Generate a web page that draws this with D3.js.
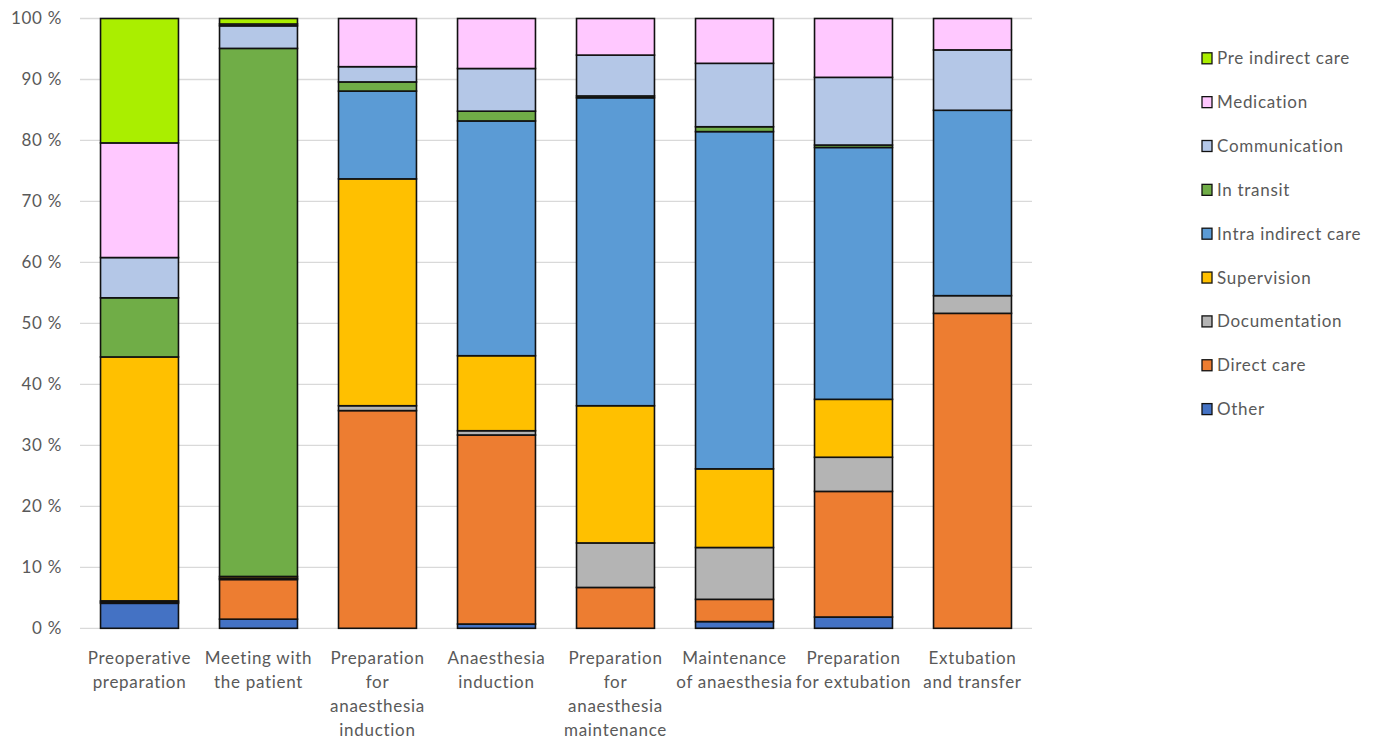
<!DOCTYPE html>
<html>
<head>
<meta charset="utf-8">
<script src="https://cdn.jsdelivr.net/npm/d3@7"></script>
<style>
  html, body { margin: 0; padding: 0; background: #fff; }
  svg { display: block; font-family: Lato, "Liberation Sans", sans-serif; }
</style>
</head>
<body>
<svg id="chart" width="1379" height="739"></svg>
<script>
// Phases of the anaesthesia workflow
const categories = [
  "Preoperative preparation",
  "Meeting with the patient",
  "Preparation for anaesthesia induction",
  "Anaesthesia induction",
  "Preparation for anaesthesia maintenance",
  "Maintenance of anaesthesia",
  "Preparation for extubation",
  "Extubation and transfer"
];
// Axis label lines for each phase
const categoryLines = [
  ["Preoperative", "preparation"],
  ["Meeting with", "the patient"],
  ["Preparation", "for", "anaesthesia", "induction"],
  ["Anaesthesia", "induction"],
  ["Preparation", "for", "anaesthesia", "maintenance"],
  ["Maintenance", "of anaesthesia"],
  ["Preparation", "for extubation"],
  ["Extubation", "and transfer"]
];

// Activity types, stacked bottom to top
const seriesNames = [
  "Other", "Direct care", "Documentation", "Supervision",
  "Intra indirect care", "In transit", "Communication", "Medication",
  "Pre indirect care"
];

// Share of time (%) per activity, one value per phase
const other            = [4.1, 1.5, 0,    0.7,  0,    1.1,  1.85, 0];
const directCare       = [0.2, 6.5, 35.7, 31.0, 6.7,  3.65, 20.6, 51.65];
const documentation    = [0.2, 0.2, 0.8,  0.7,  7.3,  8.5,  5.6,  2.9];
const supervision      = [40.0, 0.3, 37.2, 12.3, 22.5, 12.9, 9.5,  0];
const intraIndirect    = [0,   0,   14.4, 38.5, 50.5, 55.3, 41.3, 30.4];
const inTransit        = [9.7, 86.6, 1.5, 1.6,  0.3,  0.8,  0.4,  0];
const communication    = [6.6, 3.7, 2.5,  7.0,  6.7,  10.4, 11.1, 9.9];
const medication       = [18.8, 0.3, 7.9, 8.2,  6.0,  7.35, 9.65, 5.15];
const preIndirect      = [20.4, 0.9, 0,   0,    0,    0,    0,    0];

const yTicks = [0, 10, 20, 30, 40, 50, 60, 70, 80, 90, 100];

const seriesValues = [other, directCare, documentation, supervision,
  intraIndirect, inTransit, communication, medication, preIndirect];

const colors = ["#4472C4", "#ED7D31", "#B4B4B4", "#FFC000", "#5B9BD5",
  "#70AD47", "#B4C7E7", "#FFC8FF", "#AAEE00"];

// Build row objects for d3.stack
const rows = categories.map((c, i) => {
  const r = { category: c };
  seriesNames.forEach((s, k) => { r[s] = seriesValues[k][i]; });
  return r;
});

const svg = d3.select("#chart");
const margin = { left: 80, right: 1379 - 1032, top: 18.5, bottom: 739 - 628.3 };
const W = 1379, H = 739;

const x = d3.scaleBand()
  .domain(categories)
  .range([margin.left, W - margin.right])
  .paddingInner(0.345)
  .paddingOuter(0.1725);

const y = d3.scaleLinear()
  .domain([0, 100])
  .range([H - margin.bottom, margin.top]);

const textColor = "#595959";
const spacing = "0.7px";

// Gridlines
svg.append("g")
  .selectAll("line")
  .data(yTicks)
  .join("line")
  .attr("x1", margin.left)
  .attr("x2", W - margin.right)
  .attr("y1", d => y(d))
  .attr("y2", d => y(d))
  .attr("stroke", "#D9D9D9")
  .attr("stroke-width", 1.3);

// Y axis labels
const yAxis = d3.axisLeft(y)
  .tickValues(yTicks)
  .tickFormat(d => d + " %")
  .tickSize(0)
  .tickPadding(18);
const yG = svg.append("g")
  .attr("transform", `translate(${margin.left},0)`)
  .call(yAxis);
yG.select(".domain").remove();
yG.selectAll("text")
  .attr("fill", textColor)
  .style("font-size", "17px")
  .style("letter-spacing", spacing)
  .style("font-family", "Lato, sans-serif");

// Stacked bars
const stack = d3.stack().keys(seriesNames);
const stacked = stack(rows);

svg.append("g")
  .selectAll("g")
  .data(stacked)
  .join("g")
  .attr("fill", (d, i) => colors[i])
  .selectAll("rect")
  .data(d => d.filter(p => p[1] - p[0] > 0))
  .join("rect")
  .attr("x", d => x(d.data.category))
  .attr("width", x.bandwidth())
  .attr("y", d => y(d[1]))
  .attr("height", d => y(d[0]) - y(d[1]))
  .attr("stroke", "#111")
  .attr("stroke-width", 1.6);

// X axis labels
const xG = svg.append("g");
categories.forEach((c, i) => {
  const t = xG.append("text")
    .attr("x", x(c) + x.bandwidth() / 2)
    .attr("y", 664)
    .attr("text-anchor", "middle")
    .attr("fill", textColor)
    .style("letter-spacing", spacing)
    .style("font-size", "17px");
  categoryLines[i].forEach((line, j) => {
    t.append("tspan")
      .attr("x", x(c) + x.bandwidth() / 2)
      .attr("dy", j === 0 ? 0 : 24)
      .text(line);
  });
});

// Legend, top entry is the top series
const legendItems = seriesNames.map((s, i) => ({ name: s, color: colors[i] })).reverse();
const legend = svg.append("g");
const lg = legend.selectAll("g")
  .data(legendItems)
  .join("g")
  .attr("transform", (d, i) => `translate(1202, ${58.3 + i * 43.85})`);
lg.append("rect")
  .attr("x", 0)
  .attr("y", -5.5)
  .attr("width", 10)
  .attr("height", 11)
  .attr("fill", d => d.color)
  .attr("stroke", "#111")
  .attr("stroke-width", 1.3);
lg.append("text")
  .attr("x", 15)
  .attr("y", 0)
  .attr("dy", "0.35em")
  .attr("fill", textColor)
  .style("font-size", "17px")
  .style("letter-spacing", spacing)
  .text(d => d.name);
</script>
</body>
</html>
